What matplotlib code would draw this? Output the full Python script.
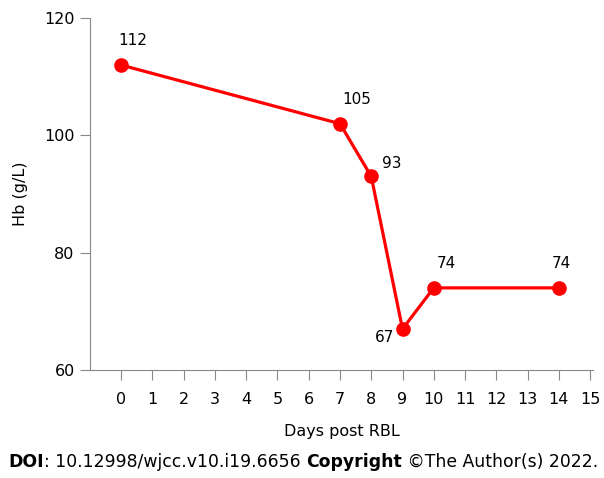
import matplotlib
matplotlib.use("Agg")
import matplotlib.pyplot as plt

# data
days = [0, 7, 8, 9, 10, 14]
hb = [112, 102, 93, 67, 74, 74]
point_labels = ["112", "105", "93", "67", "74", "74"]
# label offsets in points (dx, dy, ha)
label_pos = [(8, 12, "center"), (12, 12, "center"), (8, 4, "left"),
             (-6, -1, "right"), (2, 12, "left"), (2, 12, "center")]
xticks = list(range(0, 16))
yticks = [60, 80, 100, 120]

plt.rcParams['font.family'] = ['DejaVu Sans']
fig = plt.figure(figsize=(6.04, 4.78), dpi=100)
ax = fig.add_axes([0.149, 0.226, 0.833, 0.736])

ax.plot(days, hb, color='#ff0000', lw=2.3, marker='o', ms=9.5, zorder=3, clip_on=False)

for d, v, lab, (dx, dy, ha) in zip(days, hb, point_labels, label_pos):
    ax.annotate(lab, (d, v), xytext=(dx, dy), textcoords='offset points',
                ha=ha, va='bottom' if dy > 0 else 'top', fontsize=11)

ax.set_xlim(-1, 15.1)
ax.set_ylim(60, 120)
ax.set_xticks(xticks)
ax.set_yticks(yticks)
for s in ['top', 'right']:
    ax.spines[s].set_visible(False)
for s in ['left', 'bottom']:
    ax.spines[s].set_color('#888888')
    ax.spines[s].set_linewidth(0.8)
ax.tick_params(axis='both', colors='#888888', length=7, width=0.8, labelcolor='black', labelsize=11.5)
ax.tick_params(axis='x', pad=9)
ax.tick_params(axis='y', pad=4)

ax.set_xlabel("Days post RBL", fontsize=11.5, labelpad=12)
ax.set_ylabel("Hb (g/L)", fontsize=11.5, labelpad=12)

# caption line: bold and normal pieces set one after another
fig.canvas.draw()
r = fig.canvas.get_renderer()
x = 8
parts = [("DOI", "bold"), (": 10.12998/wjcc.v10.i19.6656 ", "normal"),
         ("Copyright", "bold"), (" \u00a9The Author(s) 2022.", "normal")]
for txt, w in parts:
    t = fig.text(x / 604, 1 - 462 / 478, txt, fontsize=12.4, fontweight=w, va='center', ha='left')
    bb = t.get_window_extent(renderer=r)
    x += bb.width

fig.savefig("out.png", dpi=100)
